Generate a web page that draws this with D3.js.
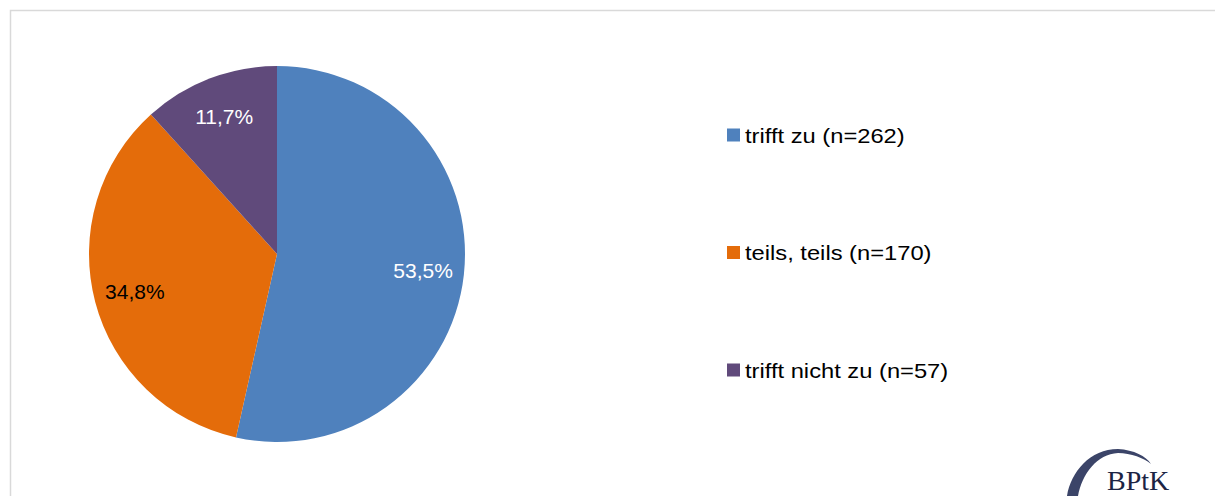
<!DOCTYPE html>
<html>
<head>
  <meta charset="utf-8">
  <style>
    body { margin: 0; background: #fff; font-family: "Liberation Sans", Arial, sans-serif; }
  </style>
  <title>Pie</title>
</head>
<body>
  <script src="https://cdn.jsdelivr.net/npm/d3@7"></script>
  <script>
    // data
    var categories = ["trifft zu", "teils, teils", "trifft nicht zu"];
    var counts = [262, 170, 57];
    var shares = [53.5, 34.8, 11.7];
    var colors = ["#4F81BD", "#E46C0A", "#604A7B"];
    var labelColors = ["#ffffff", "#000000", "#ffffff"];

    var width = 1215, height = 496;
    var cx = 277, cy = 254, radius = 188;

    var svg = d3.select("body").append("svg")
      .attr("width", width)
      .attr("height", height);

    // chart frame
    svg.append("rect")
      .attr("x", 10.5).attr("y", 10.5)
      .attr("width", width + 20).attr("height", height + 20)
      .attr("fill", "none")
      .attr("stroke", "#d9d9d9")
      .attr("stroke-width", 1.5);

    var fmt = function (v) { return v.toFixed(1).replace(".", ",") + "%"; };

    var pie = d3.pie().sort(null).value(function (d) { return d; });
    var arcs = pie(shares);

    var arc = d3.arc().innerRadius(0).outerRadius(radius);
    var labelArc = d3.arc().innerRadius(147).outerRadius(147);

    var g = svg.append("g").attr("transform", "translate(" + cx + "," + cy + ")");

    g.selectAll("path.slice").data(arcs).enter().append("path")
      .attr("class", "slice")
      .attr("d", arc)
      .attr("fill", function (d, i) { return colors[i]; });

    g.selectAll("text.lbl").data(arcs).enter().append("text")
      .attr("class", "lbl")
      .attr("transform", function (d) { return "translate(" + labelArc.centroid(d) + ")"; })
      .attr("text-anchor", "middle")
      .attr("dy", "0.36em")
      .attr("font-size", 21)
      .attr("fill", function (d, i) { return labelColors[i]; })
      .text(function (d) { return fmt(d.value); });

    // legend
    var legendY = d3.scalePoint().domain(categories).range([135, 370]);
    var lg = svg.append("g").selectAll("g").data(categories).enter().append("g")
      .attr("transform", function (d) { return "translate(727," + legendY(d) + ")"; });

    lg.append("rect")
      .attr("x", 0).attr("y", -6.5)
      .attr("width", 13).attr("height", 13)
      .attr("fill", function (d, i) { return colors[i]; });

    // legend text in the reference is a little wider than plain Arial
    lg.append("text")
      .attr("transform", "translate(18,0) scale(1.13,1)")
      .attr("dy", "0.36em")
      .attr("font-size", 21)
      .attr("fill", "#000")
      .text(function (d, i) { return d + " (n=" + counts[i] + ")"; });

    // BPtK logo, bottom right
    var logo = svg.append("g");
    logo.append("path")
      .attr("d", "M1067,496 C1071,472 1090,449 1118,449 C1134,450 1146,456 1151,464 C1144,458 1131,453 1118,453 C1097,454 1082,474 1078,496 Z")
      .attr("fill", "#3b4468");
    logo.append("text")
      .attr("x", 1107).attr("y", 490)
      .attr("font-family", "'Liberation Serif', 'DejaVu Serif', serif")
      .attr("font-size", 28)
      .attr("fill", "#1c2444")
      .text("BPtK");
  </script>
</body>
</html>
